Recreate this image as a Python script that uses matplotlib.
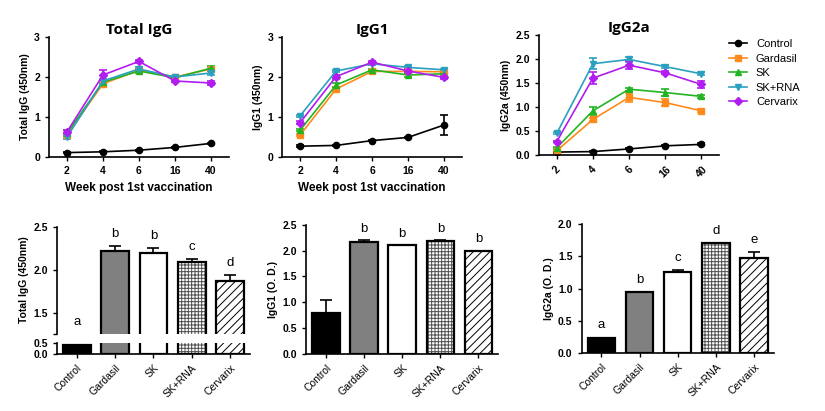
import numpy as np
import matplotlib
matplotlib.use('Agg')
import matplotlib.pyplot as plt
from matplotlib.lines import Line2D

plt.rcParams['font.family'] = ['Liberation Sans', 'DejaVu Sans']
plt.rcParams['hatch.linewidth'] = 0.7

# DATA
weeks = ['2', '4', '6', '16', '40']
groups = ['Control', 'Gardasil', 'SK', 'SK+RNA', 'Cervarix']
colors = ['black', '#FF8A1C', '#22B422', '#2AA0C0', '#B11CF0']
markers = ['o', 's', '^', 'v', 'D']

total_igg = {
    'Control':  [0.11, 0.13, 0.17, 0.24, 0.34],
    'Gardasil': [0.55, 1.83, 2.17, 2.00, 2.20],
    'SK':       [0.60, 1.87, 2.15, 1.98, 2.22],
    'SK+RNA':   [0.50, 1.90, 2.20, 2.00, 2.10],
    'Cervarix': [0.63, 2.05, 2.39, 1.90, 1.85],
}
total_igg_err = {
    'Control':  [0.01, 0.01, 0.01, 0.01, 0.02],
    'Gardasil': [0.05, 0.05, 0.04, 0.03, 0.05],
    'SK':       [0.08, 0.05, 0.05, 0.03, 0.05],
    'SK+RNA':   [0.05, 0.05, 0.04, 0.03, 0.04],
    'Cervarix': [0.05, 0.13, 0.03, 0.03, 0.06],
}
igg1 = {
    'Control':  [0.27, 0.29, 0.41, 0.49, 0.80],
    'Gardasil': [0.55, 1.70, 2.14, 2.14, 2.13],
    'SK':       [0.67, 1.80, 2.18, 2.05, 2.08],
    'SK+RNA':   [1.03, 2.15, 2.33, 2.24, 2.18],
    'Cervarix': [0.86, 2.01, 2.37, 2.15, 1.99],
}
igg1_err = {
    'Control':  [0.02, 0.02, 0.02, 0.02, 0.24],
    'Gardasil': [0.03, 0.04, 0.03, 0.03, 0.03],
    'SK':       [0.03, 0.05, 0.03, 0.04, 0.03],
    'SK+RNA':   [0.02, 0.03, 0.03, 0.03, 0.02],
    'Cervarix': [0.03, 0.05, 0.03, 0.04, 0.03],
}
igg2a = {
    'Control':  [0.06, 0.07, 0.125, 0.19, 0.22],
    'Gardasil': [0.09, 0.74, 1.20, 1.09, 0.92],
    'SK':       [0.15, 0.92, 1.37, 1.30, 1.22],
    'SK+RNA':   [0.45, 1.90, 1.99, 1.84, 1.69],
    'Cervarix': [0.28, 1.60, 1.87, 1.71, 1.47],
}
igg2a_err = {
    'Control':  [0.01, 0.01, 0.01, 0.01, 0.02],
    'Gardasil': [0.02, 0.03, 0.10, 0.08, 0.03],
    'SK':       [0.02, 0.08, 0.03, 0.08, 0.03],
    'SK+RNA':   [0.02, 0.12, 0.06, 0.03, 0.03],
    'Cervarix': [0.02, 0.12, 0.08, 0.03, 0.07],
}

bar_total = [0.38, 2.22, 2.195, 2.09, 1.87]
bar_total_err = [0.0, 0.06, 0.06, 0.04, 0.07]
let_total = ['', 'b', 'b', 'c', 'd']
bar_igg1 = [0.80, 2.16, 2.10, 2.19, 2.00]
bar_igg1_err = [0.25, 0.05, 0.01, 0.01, 0.0]
let_igg1 = ['', 'b', 'b', 'b', 'b']
bar_igg2a = [0.24, 0.94, 1.25, 1.705, 1.47]
bar_igg2a_err = [0.0, 0.0, 0.03, 0.0, 0.09]
let_igg2a = ['a', 'b', 'c', 'd', 'e']

bar_face = ['black', '#808080', 'white', 'white', 'white']
bar_hatch = [None, None, None, '+++++', '////']
hatch_col = ['black', 'black', 'black', '#505050', 'black']

fig = plt.figure(figsize=(8.25, 4.11), dpi=100)


def style_ax(ax):
    ax.spines['top'].set_visible(False)
    ax.spines['right'].set_visible(False)
    for s in ['left', 'bottom']:
        ax.spines[s].set_linewidth(1.2)
    ax.tick_params(width=1.0, length=3, labelsize=7.5)
    for lab in ax.get_yticklabels():
        lab.set_fontweight('bold')


def line_panel(rect, data, err, title, ylabel, ylim, yticks, fmt, xlabel=True):
    ax = fig.add_axes(rect)
    x = np.arange(len(weeks))
    for g, c, m in zip(groups, colors, markers):
        ax.errorbar(x, data[g], yerr=err[g], color=c, marker=m, markersize=4.5,
                    linewidth=1.2, capsize=3, elinewidth=1.2, capthick=1.2)
    ax.set_xlim(-0.5, 4.5)
    ax.set_ylim(*ylim)
    ax.set_yticks(yticks)
    ax.set_yticklabels([fmt % v for v in yticks], fontweight='bold')
    ax.set_xticks(x)
    if xlabel:
        ax.set_xticklabels(weeks, fontweight='bold')
        ax.set_xlabel('Week post 1st vaccination', fontsize=8.5, fontweight='bold', labelpad=4)
    else:
        ax.set_xticklabels(weeks, fontweight='bold', rotation=45)
    ax.set_ylabel(ylabel, fontsize=7.5, fontweight='bold', labelpad=3)
    ax.set_title(title, fontsize=11, fontweight='bold', family=['Open Sans', 'DejaVu Sans'], pad=1)
    style_ax(ax)
    return ax


line_panel([0.0594, 0.618, 0.218, 0.292], total_igg, total_igg_err, 'Total IgG',
           'Total IgG (450nm)', (0, 3), [0, 1, 2, 3], '%d')
line_panel([0.342, 0.618, 0.218, 0.292], igg1, igg1_err, 'IgG1',
           'IgG1 (450nm)', (0, 3), [0, 1, 2, 3], '%d')
ax3 = line_panel([0.653, 0.623, 0.219, 0.292], igg2a, igg2a_err, 'IgG2a',
                 'IgG2a (450nm)', (0, 2.5), [0, 0.5, 1.0, 1.5, 2.0, 2.5], '%.1f', xlabel=False)
handles = [Line2D([], [], color=c, marker=m, markersize=4.5, linewidth=1.2)
           for c, m in zip(colors, markers)]
ax3.legend(handles, groups, loc='upper left', bbox_to_anchor=(1.03, 1.0), frameon=False,
           fontsize=8, handlelength=1.6, labelspacing=0.4, borderaxespad=0)


def draw_bars(ax, vals, errs):
    x = np.arange(len(groups))
    for i in range(len(groups)):
        # fill + hatch first, then a black outline on top
        ax.bar(x[i], vals[i], width=0.72, color=bar_face[i], edgecolor=hatch_col[i],
               linewidth=0, hatch=bar_hatch[i], zorder=2)
        ax.bar(x[i], vals[i], width=0.72, fill=False, edgecolor='black',
               linewidth=1.6, zorder=3)
        if errs[i] > 0:
            ax.errorbar(x[i], vals[i], yerr=[[0], [errs[i]]], color='black',
                        capsize=4, elinewidth=1.2, capthick=1.2, zorder=1)
    ax.set_xlim(-0.52, 4.52)
    ax.set_xticks(x)


def letters(ax, vals, errs, labs, off):
    for i, l in enumerate(labs):
        if l:
            ax.text(i, vals[i] + errs[i] + off, l, ha='center', va='bottom', fontsize=9.5)


# Bottom-left: broken axis
ax_t = fig.add_axes([0.069, 0.187, 0.234, 0.260])
ax_b = fig.add_axes([0.069, 0.139, 0.234, 0.027])
draw_bars(ax_t, bar_total, bar_total_err)
draw_bars(ax_b, bar_total, bar_total_err)
ax_t.set_ylim(1.25, 2.5)
ax_b.set_ylim(0, 0.5)
ax_t.set_yticks([1.5, 2.0, 2.5, 1.25])
ax_t.set_yticklabels(['1.5', '2.0', '2.5', ''])
ax_b.set_yticks([0, 0.5])
ax_b.set_yticklabels(['0.0', '0.5'])
style_ax(ax_t)
style_ax(ax_b)
ax_t.spines['bottom'].set_visible(False)
ax_t.tick_params(axis='x', bottom=False, labelbottom=False)
ax_b.set_xticklabels(groups, rotation=45, ha='right', rotation_mode='anchor', fontsize=7.5)
letters(ax_t, bar_total, bar_total_err, let_total, 0.07)
ax_t.text(0, 1.32, 'a', ha='center', va='bottom', fontsize=9.5)
fig.text(0.029, 0.32, 'Total IgG (450nm)', rotation=90, ha='center', va='center',
         fontsize=7.5, fontweight='bold')

# Bottom-middle
ax5 = fig.add_axes([0.371, 0.139, 0.233, 0.314])
draw_bars(ax5, bar_igg1, bar_igg1_err)
ax5.set_ylim(0, 2.5)
ax5.set_yticks([0, 0.5, 1.0, 1.5, 2.0, 2.5])
ax5.set_yticklabels(['0.0', '0.5', '1.0', '1.5', '2.0', '2.5'])
ax5.set_ylabel('IgG1 (O. D.)', fontsize=7.5, fontweight='bold', labelpad=3)
style_ax(ax5)
ax5.set_xticklabels(groups, rotation=45, ha='right', rotation_mode='anchor', fontsize=7.5)
letters(ax5, bar_igg1, bar_igg1_err, let_igg1, 0.1)

# Bottom-right
ax6 = fig.add_axes([0.705, 0.141, 0.233, 0.314])
draw_bars(ax6, bar_igg2a, bar_igg2a_err)
ax6.set_ylim(0, 2.0)
ax6.set_yticks([0, 0.5, 1.0, 1.5, 2.0])
ax6.set_yticklabels(['0.0', '0.5', '1.0', '1.5', '2.0'])
ax6.set_ylabel('IgG2a (O. D.)', fontsize=7.5, fontweight='bold', labelpad=3)
style_ax(ax6)
ax6.set_xticklabels(groups, rotation=45, ha='right', rotation_mode='anchor', fontsize=7.5)
letters(ax6, bar_igg2a, bar_igg2a_err, let_igg2a, 0.1)

fig.savefig('out.png', dpi=100)
